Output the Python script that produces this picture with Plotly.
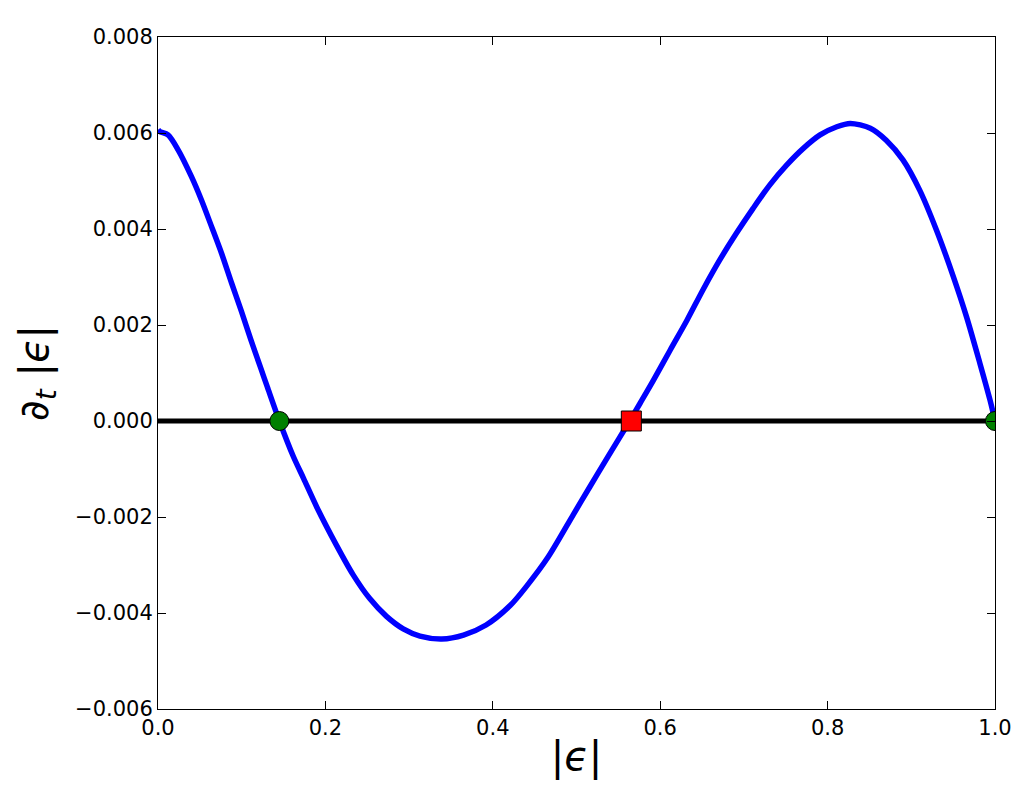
import plotly.graph_objects as go

# curve
eps = [0.0, 0.002, 0.012, 0.024, 0.040, 0.052, 0.064, 0.076, 0.088, 0.0996, 0.111, 0.123, 0.1306,
       0.145, 0.1617, 0.174, 0.1896, 0.213, 0.233, 0.253, 0.273, 0.293, 0.313, 0.339, 0.365,
       0.392, 0.421, 0.440, 0.4663, 0.4962, 0.516, 0.536, 0.552, 0.5635, 0.576, 0.592, 0.612, 0.632,
       0.651, 0.671, 0.691, 0.711, 0.731, 0.751, 0.771, 0.791, 0.811, 0.827, 0.851, 0.870, 0.890,
       0.910, 0.930, 0.950, 0.966, 0.982, 0.994, 1.0]
deps = [0.00607, 0.00603, 0.00596, 0.00565, 0.00509, 0.00460, 0.00405, 0.00349, 0.00287, 0.00229,
        0.00169, 0.00109, 0.00071, 0.0, -0.00074, -0.00120, -0.00179, -0.00258, -0.00320,
        -0.00370, -0.00407, -0.00433, -0.00448, -0.00454, -0.00446, -0.00425, -0.00384, -0.00345,
        -0.00283, -0.00195, -0.00137, -0.00079, -0.00033, 0.0, 0.00037, 0.00085, 0.00148, 0.00210,
        0.00273, 0.00335, 0.00391, 0.00443, 0.00492, 0.00533, 0.00568, 0.00596, 0.00613, 0.00620,
        0.00610, 0.00585, 0.00544, 0.00481, 0.00398, 0.00302, 0.00217, 0.00120, 0.00044, 0.0]

stable_x = [0.145, 1.0]
stable_y = [0.0, 0.0]
unstable_x = [0.5655]
unstable_y = [0.0]

xticks = [0.0, 0.2, 0.4, 0.6, 0.8, 1.0]
xticklabels = ['0.0', '0.2', '0.4', '0.6', '0.8', '1.0']
yticks = [-0.006, -0.004, -0.002, 0.0, 0.002, 0.004, 0.006, 0.008]
yticklabels = ['\u22120.006', '\u22120.004', '\u22120.002', '0.000', '0.002', '0.004', '0.006', '0.008']

font = 'DejaVu Sans'

curve = go.Scatter(x=eps, y=deps, mode='lines', line=dict(color='#0000ff', width=5.5, shape='spline', smoothing=0.8),
                   showlegend=False)
zero = go.Scatter(x=[0.0, 1.0], y=[0.0, 0.0], mode='lines', line=dict(color='black', width=5), showlegend=False)
stable = go.Scatter(x=stable_x, y=stable_y, mode='markers',
                    marker=dict(symbol='circle', size=19, color='#008000', line=dict(color='black', width=1)),
                    showlegend=False)
unstable = go.Scatter(x=unstable_x, y=unstable_y, mode='markers',
                      marker=dict(symbol='square', size=20, color='#ff0000', line=dict(color='black', width=1)),
                      showlegend=False)

axis_common = dict(showgrid=False, zeroline=False, showline=True, linecolor='black', linewidth=1,
                   mirror='ticks', ticks='inside', ticklen=8, tickcolor='black', tickwidth=1,
                   tickfont=dict(family=font, size=21, color='black'))

layout = go.Layout(
    width=1029, height=809,
    margin=dict(l=150, r=42, t=29, b=108),
    paper_bgcolor='white', plot_bgcolor='white',
    xaxis=dict(range=[0, 1], tickvals=xticks, ticktext=xticklabels,
               title=dict(text='|<i>\u03f5</i>|', font=dict(family=font, size=40, color='black'), standoff=2),
               **axis_common),
    yaxis=dict(range=[-0.006, 0.008], tickvals=yticks, ticktext=yticklabels,
               title=dict(text='<i>\u2202<sub>t</sub></i> |<i>\u03f5</i>|', font=dict(family=font, size=40, color='black'),
                          standoff=14),
               **axis_common),
)

fig = go.Figure(data=[curve, zero, stable, unstable], layout=layout)
fig.write_html("out.html")
